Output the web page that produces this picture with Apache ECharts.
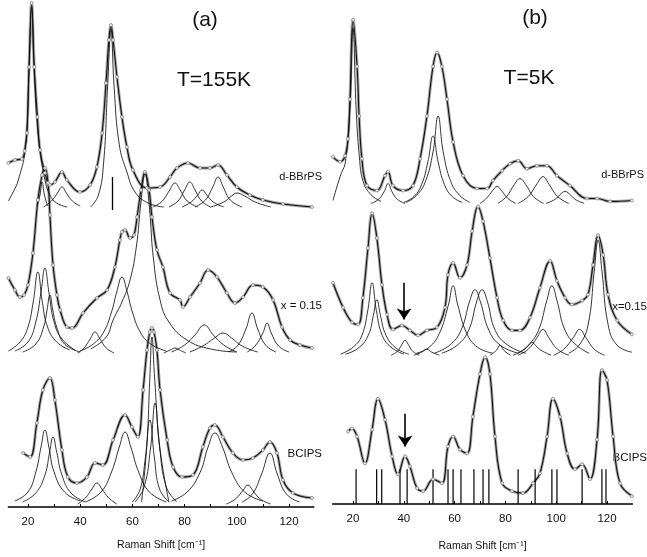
<!DOCTYPE html>
<html><head><meta charset="utf-8">
<script src="https://cdn.jsdelivr.net/npm/echarts@6/dist/echarts.min.js"></script>
<style>html,body{margin:0;padding:0;background:#fff}#c{width:647px;height:557px}</style>
</head><body><div id="c"></div>
<script>
// ---------- tick labels ----------
const xLabelValues = [20, 40, 60, 80, 100, 120];
const xTickValues = [20, 30, 40, 50, 60, 70, 80, 90, 100, 110, 120];

// ---------- panel (a) T=155K ----------
const aTopFit = [[12.5,344],[15,347],[17.7,348],[18.7,356],[19.6,374],[20.4,440],[21.4,504],[22.4,440],[23.6,390],[24.6,357],[26.5,334],[28.4,322],[30.3,325],[33,335],[34.9,327],[39.9,315],[43.8,322],[46.4,340],[48.4,374],[49.9,424],[51,467],[51.8,482],[52.6,467],[54.1,430],[56,390],[57.9,360],[60.2,337],[65.6,319],[70.6,320],[74.4,330],[77.1,339],[81.3,344],[85.9,339],[89.7,339],[92.8,342],[96.2,332],[100,320],[105,312],[110,307],[117.7,303],[128.8,300]];
const aTopComps = [
  [[12.5,306],[14.9,318],[16.2,326],[18.9,357],[20.4,435],[21.4,500],[22.4,435],[24,370],[26.5,327],[28.4,312],[31,304],[35,300]],
  [[26,300],[29,306],[31.3,314],[33,320],[34.7,314],[37,306],[40,301]],
  [[23.5,301],[24.6,312],[25.4,325],[26.3,312],[27.5,301]],
  [[44,300],[47,312],[49,345],[50.5,420],[51.8,478],[53,420],[55,362],[57.9,335],[61,315],[66,304],[72,300]],
  [[68,300],[71.5,306],[74.3,317],[76.3,324],[78.3,317],[81,306],[85,300]],
  [[74,300],[77.5,306],[80,317],[82,325],[84,317],[86.5,306],[90,300]],
  [[79,300],[82.5,305],[85,312],[86.7,317],[88.5,312],[91,305],[95,300]],
  [[84,300],[88,307],[90.8,320],[92.8,330],[94.8,320],[97.5,307],[102,300]],
  [[90,300],[95,305],[98,311],[100,314],[103,311],[107,305],[113,300]]
];
const aTopBar = [[52.2,297],[52.2,330]];

const aMidFit = [[12.5,229],[15,217],[16.9,210],[18.5,212],[20,222],[21.9,254],[23.8,307],[25.4,332],[26.5,339],[27.7,324],[28.4,292],[29.6,242],[31.1,212],[32.3,197],[34.9,180],[36.9,179],[41.1,194],[46.4,209],[50.3,217],[53.3,240],[55.2,267],[56,275],[57.2,277],[59.1,269],[60.6,272],[61.8,290],[63.3,317],[64.8,335],[66.4,317],[67.5,290],[69.4,257],[71.7,240],[74.4,214],[78.2,207],[79.4,200],[82.1,210],[85.9,224],[89,237],[92.4,230],[96.2,214],[99.3,204],[102.4,210],[106.2,222],[110,220],[113.9,207],[117.3,180],[120.4,167],[124.2,162],[128.8,159]];
const aMidComps = [
  [[12.5,156],[17,165],[20,180],[22,205],[23.8,235],[25.5,205],[27.5,180],[31,165],[36,157]],
  [[15,156],[20,165],[23,185],[25,215],[26.5,239],[28,215],[30,185],[33,168],[38,157]],
  [[18,155],[23,163],[26,180],[27.3,197],[28.4,212],[29.5,197],[31,180],[34,163],[40,155]],
  [[39,154],[41.5,159],[43.8,168],[45.7,175],[47.6,168],[50,159],[53,154]],
  [[40,156],[45,163],[49,175],[52,195],[54,215],[56,230],[58,215],[60,195],[63,175],[67,163],[73,156]],
  [[44,158],[50,170],[52.6,187],[56,205],[59.1,227],[61.5,260],[63.3,305],[64.8,333],[66.5,300],[68,250],[70.6,207],[74,185],[80.9,167],[90,158],[100,155]],
  [[72,154],[74.5,157],[76.3,159],[78,157],[80.5,154]],
  [[75,155],[80,162],[84,172],[87.5,182],[91,172],[95,162],[100,155]],
  [[82,155],[87,161],[91.5,169],[94.7,174],[98,169],[102,161],[108,155]],
  [[97,155],[100.5,162],[103.5,178],[105.8,194],[108,178],[111,162],[115,155]],
  [[104,155],[107,161],[110,174],[111.6,184],[113.2,174],[116,161],[120,155]]
];

const aBotFit = [[18.1,54],[20.8,50],[23.4,84],[25.7,117],[28.4,129],[30.3,107],[33,57],[35.3,30],[38.8,24],[42.6,30],[45.7,44],[48.7,42],[52.6,67],[57.2,92],[59.8,80],[62.1,70],[64.1,117],[65.6,157],[66.7,175],[67.5,179],[68.3,175],[69.4,157],[70.6,117],[73.3,67],[75.6,40],[79,30],[83.2,32],[87,60],[89.7,79],[91.6,82],[94.7,70],[98.5,54],[102.4,47],[106.2,49],[110,57],[112.7,65],[115.4,54],[117.7,27],[121.5,14],[128.8,9]];
const aBotComps = [
  [[15,6],[20,15],[23,35],[25,60],[26.5,77],[28,60],[30,35],[34,15],[40,6]],
  [[18,5],[23,14],[26.5,32],[28.3,55],[29.6,70],[31,55],[33,32],[36.5,14],[42,5]],
  [[39,3],[42,9],[44.5,18],[46.4,24],[48.3,18],[51,9],[54,3]],
  [[42,5],[48,15],[52,35],[55,60],[57.2,75],[59.4,60],[62.4,35],[66.5,15],[73,5]],
  [[60,5],[63,18],[65,50],[66.7,87],[68.4,50],[70.4,18],[74,5]],
  [[61,5],[64.5,20],[67,60],[68.7,104],[70.4,60],[73,20],[77,5]],
  [[63.5,5],[65.5,60],[66.7,130],[67.5,170],[68.5,130],[70.5,60],[74,5]],
  [[75,6],[81,15],[86,35],[89,60],[91.6,74],[94.5,60],[98,35],[103,15],[110,6]],
  [[96,3],[99.5,8],[102.5,17],[104.3,22],[106,17],[109,8],[113,3]],
  [[102,5],[106,13],[109.5,33],[112.7,54],[115.5,33],[119,13],[124,5]]
];

// ---------- panel (b) T=5K ----------
const bTopFit = [[12.1,350],[14.9,345],[16.9,351],[18,368],[18.8,408],[20,488],[21.6,441],[22.4,391],[23.5,348],[25.5,321],[29.4,316],[32.6,331],[33.8,335],[35.7,321],[39.7,316],[43.6,321],[46.4,348],[49.1,391],[51.5,441],[53.1,455],[55,441],[57,408],[59.4,365],[63.3,331],[68.8,318],[72.8,318],[75.1,326],[78.7,336],[81.8,343],[85,346],[88.5,338],[92.4,341],[96.3,341],[100.3,331],[105.4,321],[112.1,308],[116.1,308],[121.2,305],[129.8,306]];
const bTopComps = [
  [[12.1,306],[14.9,330],[17,345],[18.8,400],[20,480],[21.2,400],[22.5,350],[24,325],[27,312],[31,305]],
  [[27,303],[30,307],[32.3,315],[33.8,323],[35.3,315],[37.5,307],[40.5,303]],
  [[40,304],[44,310],[47,322],[49.5,345],[51.5,371],[53.5,345],[56,322],[59,310],[63,304]],
  [[41,304],[45,311],[48.5,325],[51.5,355],[53.5,391],[55.5,355],[58.5,325],[62,311],[66,304]],
  [[70,303],[72.5,308],[75,316],[76.7,320],[78.4,316],[81,308],[84,303]],
  [[77,303],[80.5,310],[83.5,322],[85.7,328],[88,322],[91,310],[95,303]],
  [[85,303],[89,310],[92.5,323],[94.8,330],[97,323],[100.5,310],[105,303]],
  [[96,303],[99.5,307],[102,313],[103.5,315],[105,313],[107.5,307],[111,303]]
];

const bMidFit = [[12.1,223],[16.1,198],[19.6,183],[22,181],[23.9,208],[25.9,258],[27.5,293],[29.4,268],[31.4,221],[33.4,191],[35.7,176],[39.3,180],[42.4,175],[45.6,170],[49.1,175],[53.1,178],[56.2,198],[57.4,231],[59.4,243],[62.1,228],[64.9,241],[66.9,275],[69.2,300],[71.2,285],[73.9,248],[76.7,208],[79.1,185],[82.6,175],[85.7,175],[89.7,188],[93.6,218],[97.6,245],[100.3,225],[103.5,208],[106.2,201],[110.2,205],[112.5,211],[114.5,241],[116.5,271],[118.5,251],[120.4,211],[124,185],[129.8,171]];
const bMidComps = [
  [[15,151],[20,158],[23.5,170],[25.8,195],[27.5,223],[29.2,195],[31.5,170],[35,158],[40,151]],
  [[17,151],[22,157],[26,170],[28,190],[29.4,206],[30.8,190],[33,170],[37,157],[42,151]],
  [[35,150],[37.5,154],[39.3,161],[40.5,165],[41.7,161],[43.5,154],[46,150]],
  [[44,150],[47,153],[49,156],[51,153],[54,150]],
  [[45,152],[50,158],[54,172],[57.5,200],[59.4,220],[61.3,200],[64.8,172],[69,158],[75,152]],
  [[52,152],[58,160],[62.5,175],[66,205],[68,216],[70,205],[73.5,175],[78,160],[85,152]],
  [[55,152],[61,160],[65.5,175],[68.8,205],[70.8,216],[72.8,205],[76,175],[81,160],[88,152]],
  [[74,150],[76.5,155],[77.9,160],[79.3,155],[82,150]],
  [[83,150],[87,155],[89.3,160],[90.5,163],[91.8,160],[94,155],[98,150]],
  [[85,150],[89,156],[92.5,168],[94.8,176],[97,168],[100.5,156],[105,150]],
  [[85,152],[89,160],[93,175],[96.3,205],[98.3,220],[100.3,205],[103.5,175],[108,160],[113,152]],
  [[99,150],[103,156],[106.8,168],[109.2,176],[111.6,168],[115,156],[119,150]],
  [[105,152],[109,160],[112.5,180],[115,235],[116.5,266],[118,235],[120.5,180],[124,160],[129.8,153]]
];
const bMidArrow = [[40.1,223],[40.1,186]];

const bBotFit = [[18,73],[19.6,76],[21.6,68],[24.7,41],[27.5,75],[29.8,106],[32.6,85],[35.4,48],[37.7,30],[40.5,48],[42.4,38],[45.2,16],[47.6,13],[51.5,25],[55,21],[57.4,58],[59.4,68],[62.1,55],[64.9,51],[67.2,88],[70,131],[72,148],[73.9,131],[75.9,68],[78.7,21],[82.6,13],[86.9,11],[90.9,21],[93.6,31],[96.4,68],[98.7,106],[101.5,88],[104.3,51],[107.4,35],[110.2,40],[113.3,25],[116.1,65],[118,135],[120,125],[122.4,68],[125.1,21],[129.8,8]];
const bSticks = [21.2,29.3,31.3,38.5,41.3,51.5,57.4,59.4,62.5,67.6,71.2,73.5,85,91.7,98.3,100.3,110.2,118,119.6];
const bStickHeight = 35;
const bBotArrow = [[40.5,91],[40.5,58]];

// ---------- chart ----------
const chart = echarts.init(document.getElementById('c'));
const NARROW = "'Liberation Sans Narrow','Liberation Sans',Arial,sans-serif";

function fitSeries(data, gi) {
  return [
    { type:'line', xAxisIndex:gi, yAxisIndex:gi, data, smooth:0.4, showSymbol:false, silent:true,
      lineStyle:{color:'#a8a8a8', width:3}, z:2 },
    { type:'line', xAxisIndex:gi, yAxisIndex:gi, data, smooth:0.4, symbol:'circle', symbolSize:3, showSymbol:true,
      itemStyle:{color:'#eee', borderColor:'#888', borderWidth:0.8},
      lineStyle:{color:'#111', width:1.1}, z:4 }
  ];
}
function compSeries(list, gi) {
  return list.map(d => ({ type:'line', xAxisIndex:gi, yAxisIndex:gi, data:d, smooth:0.45, showSymbol:false,
    lineStyle:{color:'#111', width:0.85}, z:3 }));
}
function segSeries(coords, gi, arrow) {
  return { type:'lines', coordinateSystem:'cartesian2d', xAxisIndex:gi, yAxisIndex:gi,
    symbol: arrow ? ['none','arrow'] : ['none','none'], symbolSize: arrow ? [8,11] : 0,
    lineStyle:{color:'#000', width: arrow ? 1.6 : 1.3, opacity:1},
    data:[{coords}], z:5 };
}
function xAxisCfg(gi, min, max, gap) {
  return { type:'value', gridIndex:gi, min, max, name:'Raman Shift [cm⁻¹]', nameLocation:'middle', nameGap:gap,
    nameTextStyle:{fontSize:10.5, color:'#111', fontFamily:NARROW},
    axisLine:{show:true, lineStyle:{color:'#000', width:1.6}},
    axisTick:{show:true, inside:true, length:3, customValues:xTickValues, lineStyle:{color:'#000', width:1}},
    axisLabel:{customValues:xLabelValues, fontSize:11.5, color:'#111', margin:9, fontFamily:NARROW},
    splitLine:{show:false} };
}
function yAxisCfg(gi) {
  return { type:'value', gridIndex:gi, min:0, max:505, show:false };
}

const series = [].concat(
  fitSeries(aTopFit,0), compSeries(aTopComps,0), [segSeries(aTopBar,0,false)],
  fitSeries(aMidFit,0), compSeries(aMidComps,0),
  fitSeries(aBotFit,0), compSeries(aBotComps,0),
  fitSeries(bTopFit,1), compSeries(bTopComps,1),
  fitSeries(bMidFit,1), compSeries(bMidComps,1), [segSeries(bMidArrow,1,true)],
  fitSeries(bBotFit,1),
  [{ type:'bar', xAxisIndex:1, yAxisIndex:1, data:bSticks.map(x=>[x,bStickHeight]), barWidth:1.2,
     itemStyle:{color:'#000'}, z:3, silent:true }],
  [segSeries(bBotArrow,1,true)]
);

const txt = (text, x, y, size, align) => ({ type:'text', x, y,
  style:{ text, fill:'#111', font: size + 'px ' + (size > 14 ? "'Liberation Sans',Arial,sans-serif" : NARROW),
    textAlign: align || 'center', textVerticalAlign:'middle', align: align || 'center', verticalAlign:'middle' } });

chart.setOption({
  animation:false,
  backgroundColor:'#fff',
  grid:[
    {left:8.4, top:2, width:305.4, height:505},
    {left:332.7, top:3, width:299.7, height:505}
  ],
  xAxis:[xAxisCfg(0,12.5,129.5,33), xAxisCfg(1,12,130,37)],
  yAxis:[yAxisCfg(0), yAxisCfg(1)],
  series,
  graphic:[
    txt('(a)', 205, 20, 21),
    txt('T=155K', 214, 80, 21),
    txt('(b)', 535, 18, 21),
    txt('T=5K', 529, 78, 21),
    txt('d-BBrPS', 322, 177, 11, 'right'),
    txt('x = 0.15', 322, 306, 11.5, 'right'),
    txt('BCIPS', 322, 454, 11.5, 'right'),
    txt('d-BBrPS', 644, 175, 11, 'right'),
    txt('x=0.15', 647, 307, 11.5, 'right'),
    txt('BCIPS', 647, 458, 11.5, 'right')
  ]
});
</script></body></html>
